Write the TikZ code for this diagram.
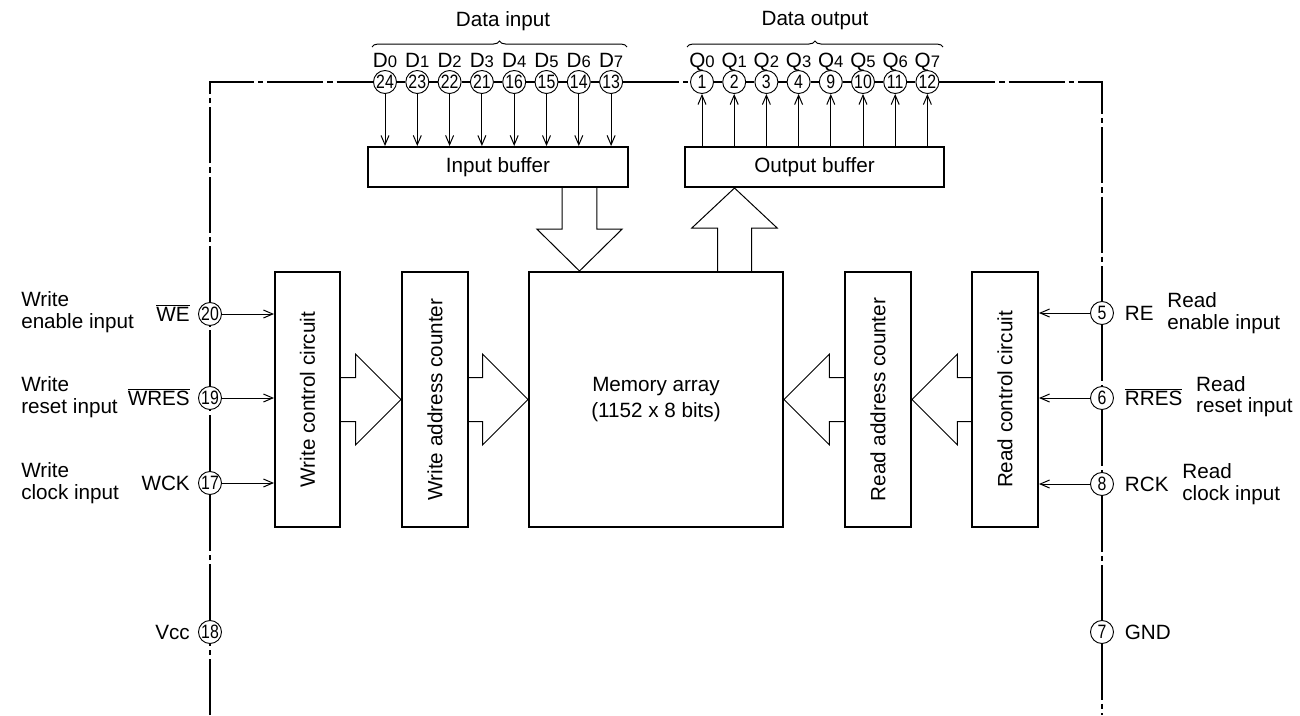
\documentclass[tikz,border=0pt]{standalone}
\usepackage{fontspec}
\usepackage{graphicx}
\setmainfont{Liberation Sans}
\usetikzlibrary{arrows.meta,calc,decorations.pathreplacing}
\newcommand\pinlab[2]{#1{\fontsize{12.5}{12.5}\selectfont #2}}
\newcommand\ovl[1]{$\overline{\mbox{#1}}$}
\newcommand\pnum[1]{\scalebox{0.82}[1]{#1}}
\begin{document}
\begin{tikzpicture}[x=0.75pt,y=-0.75pt,
  blockbox/.style={draw, line width=1.5pt, inner sep=0pt, fill=white, font=\fontsize{15.5}{19.5}\selectfont},
  pinc/.style={circle, draw, line width=0.7pt, fill=white, minimum size=17.25pt, inner sep=0pt, font=\fontsize{14.5}{14.5}\selectfont},
  cl/.style={line width=0.9pt, dash pattern=on 42pt off 3pt on 4pt off 3pt},
  sig/.style={line width=0.75pt, -{Straight Barb[length=7pt,width=6pt]}},
  blk/.style={line width=0.75pt, line join=miter},
  lbl/.style={font=\fontsize{15.5}{16}\selectfont, inner sep=0pt},
  brc/.style={line width=0.75pt, decorate, decoration={brace, amplitude=4.5pt}}
]
\useasboundingbox (0,0) rectangle (1300,715);

% blocks
\node[blockbox, minimum width=195pt, minimum height=30pt] (ib) at (498,167) {Input buffer};
\node[blockbox, minimum width=194.25pt, minimum height=30pt] (ob) at (814.5,167) {Output buffer};
\node[blockbox, minimum width=48.75pt, minimum height=191.25pt] (wcc) at (307.5,399.5) {};
\node[blockbox, minimum width=49.5pt, minimum height=191.25pt] (wac) at (435,399.5) {};
\node[blockbox, minimum width=190.5pt, minimum height=191.25pt, align=center] (mem) at (656,399.5) {Memory array\\(1152 x 8 bits)};
\node[blockbox, minimum width=49.5pt, minimum height=191.25pt] (rac) at (878,399.5) {};
\node[blockbox, minimum width=49.5pt, minimum height=191.25pt] (rcc) at (1005,399.5) {};
\node[lbl, rotate=90] at (wcc) {Write control circuit};
\node[lbl, rotate=90] at (wac) {Write address counter};
\node[lbl, rotate=90] at (rac) {Read address counter};
\node[lbl, rotate=90] at (rcc) {Read control circuit};

% outline corners
\coordinate (TL) at (210,82);
\coordinate (TR) at (1102,82);
\coordinate (BL) at (210,715);
\coordinate (BR) at (1102,715);

% top pins
\foreach \n [count=\i from 0] in {24,23,22,21,16,15,14,13} {
  \node[pinc] (d\i) at ({385+32.3*\i},82) {\pnum{\n}};
  \node[lbl, anchor=base] at ({385+32.3*\i},67) {\pinlab{D}{\i}};
  \draw[sig] (d\i) -- (d\i |- ib.north);
}
\foreach \n [count=\i from 0] in {1,2,3,4,9,10,11,12} {
  \node[pinc] (q\i) at ({702+32.2*\i},82) {\pnum{\n}};
  \node[lbl, anchor=base] at ({702+32.2*\i},67) {\pinlab{Q}{\i}};
  \draw[sig] (q\i |- ob.north) -- (q\i);
}
\draw[brc] (372,47) -- (627,47);
\draw[brc] (687,47) -- (943,47);
\node[lbl] at (503,21) {Data input};
\node[lbl] at (815,21) {Data output};

% left pins
\node[pinc] (p20) at (210,314) {\pnum{20}};
\node[pinc] (p19) at (210,398) {\pnum{19}};
\node[pinc] (p17) at (210,483) {\pnum{17}};
\node[pinc] (p18) at (210,632) {\pnum{18}};
% right pins
\node[pinc] (p5) at (1102,313) {\pnum{5}};
\node[pinc] (p6) at (1102,398) {\pnum{6}};
\node[pinc] (p8) at (1102,484) {\pnum{8}};
\node[pinc] (p7) at (1102,632) {\pnum{7}};

% outline (dash-dot)
\draw[cl] (BL) -- (p18);
\draw[cl] (p18) -- (p17);
\draw[cl] (p17) -- (p19);
\draw[cl] (p19) -- (p20);
\draw[cl] (p20) -- (TL) -- (d0);
\foreach \i/\j in {0/1,1/2,2/3,3/4,4/5,5/6,6/7} {
  \draw[cl] (d\i) -- (d\j);
  \draw[cl] (q\i) -- (q\j);
}
\draw[cl] (d7) -- (q0);
\draw[cl] (q7) -- (TR) -- (p5);
\draw[cl] (p5) -- (p6);
\draw[cl] (p6) -- (p8);
\draw[cl] (p8) -- (p7);
\draw[cl] (p7) -- (BR);

% pin signals
\draw[sig] (p20) -- (p20 -| wcc.west);
\draw[sig] (p19) -- (p19 -| wcc.west);
\draw[sig] (p17) -- (p17 -| wcc.west);
\draw[sig] (p5) -- (p5 -| rcc.east);
\draw[sig] (p6) -- (p6 -| rcc.east);
\draw[sig] (p8) -- (p8 -| rcc.east);

% left labels
\node[lbl, anchor=base east] (nWE) at ([xshift=-6pt,yshift=-5.5pt]p20.west) {\ovl{WE}};
\node[lbl, anchor=base east] (nWRES) at ([xshift=-6pt,yshift=-5.5pt]p19.west) {\ovl{WRES}};
\node[lbl, anchor=base east] (nWCK) at ([xshift=-6pt,yshift=-5.5pt]p17.west) {WCK};
\node[lbl, anchor=base east] (nVcc) at ([xshift=-6pt,yshift=-5.5pt]p18.west) {Vcc};
\node[lbl, anchor=west, align=left] (dWE) at (21,312) {Write\\enable input};
\node[lbl, anchor=west, align=left] (dWRES) at (21,397) {Write\\reset input};
\node[lbl, anchor=west, align=left] (dWCK) at (21,483) {Write\\clock input};

% right labels
\node[lbl, anchor=base west] (nRE) at ([xshift=8pt,yshift=-5.5pt]p5.east) {RE};
\node[lbl, anchor=base west] (nRRES) at ([xshift=8pt,yshift=-5.5pt]p6.east) {\ovl{RRES}};
\node[lbl, anchor=base west] (nRCK) at ([xshift=8pt,yshift=-5.5pt]p8.east) {RCK};
\node[lbl, anchor=base west] (nGND) at ([xshift=8pt,yshift=-5.5pt]p7.east) {GND};
\node[lbl, anchor=west, align=left] at ($(nRE.east |- p5)+(10pt,0)$) {Read\\enable input};
\node[lbl, anchor=west, align=left] at ($(nRRES.east |- p6)+(10pt,1pt)$) {Read\\reset input};
\node[lbl, anchor=west, align=left] at ($(nRCK.east |- p8)+(10pt,0)$) {Read\\clock input};

% horizontal block arrows
\draw[blk] ($(wcc.east)+(0,16.5pt)$) -- ($(wac.west)+(-34pt,16.5pt)$) -- ($(wac.west)+(-34pt,34pt)$) -- (wac.west) -- ($(wac.west)+(-34pt,-34pt)$) -- ($(wac.west)+(-34pt,-16.5pt)$) -- ($(wcc.east)+(0,-16.5pt)$);
\draw[blk] ($(wac.east)+(0,16.5pt)$) -- ($(mem.west)+(-34pt,16.5pt)$) -- ($(mem.west)+(-34pt,34pt)$) -- (mem.west) -- ($(mem.west)+(-34pt,-34pt)$) -- ($(mem.west)+(-34pt,-16.5pt)$) -- ($(wac.east)+(0,-16.5pt)$);
\draw[blk] ($(rcc.west)+(0,16.5pt)$) -- ($(rac.east)+(34pt,16.5pt)$) -- ($(rac.east)+(34pt,34pt)$) -- (rac.east) -- ($(rac.east)+(34pt,-34pt)$) -- ($(rac.east)+(34pt,-16.5pt)$) -- ($(rcc.west)+(0,-16.5pt)$);
\draw[blk] ($(rac.west)+(0,16.5pt)$) -- ($(mem.east)+(34pt,16.5pt)$) -- ($(mem.east)+(34pt,34pt)$) -- (mem.east) -- ($(mem.east)+(34pt,-34pt)$) -- ($(mem.east)+(34pt,-16.5pt)$) -- ($(rac.west)+(0,-16.5pt)$);

% vertical block arrows
\coordinate (inx) at (579.5,0);
\coordinate (outx) at (734.5,0);
\coordinate (inT) at (ib.south -| inx);
\coordinate (inB) at (mem.north -| inx);
\coordinate (oT) at (ob.south -| outx);
\coordinate (oB) at (mem.north -| outx);
\draw[blk] ($(inT)+(-13pt,0)$) -- ($(inB)+(-13pt,31.5pt)$) -- ($(inB)+(-32pt,31.5pt)$) -- (inB) -- ($(inB)+(32pt,31.5pt)$) -- ($(inB)+(13pt,31.5pt)$) -- ($(inT)+(13pt,0)$);
\draw[blk] ($(oB)+(-12.75pt,0)$) -- ($(oT)+(-12.75pt,-30pt)$) -- ($(oT)+(-32pt,-30pt)$) -- (oT) -- ($(oT)+(32pt,-30pt)$) -- ($(oT)+(12.75pt,-30pt)$) -- ($(oB)+(12.75pt,0)$);
\end{tikzpicture}
\end{document}
